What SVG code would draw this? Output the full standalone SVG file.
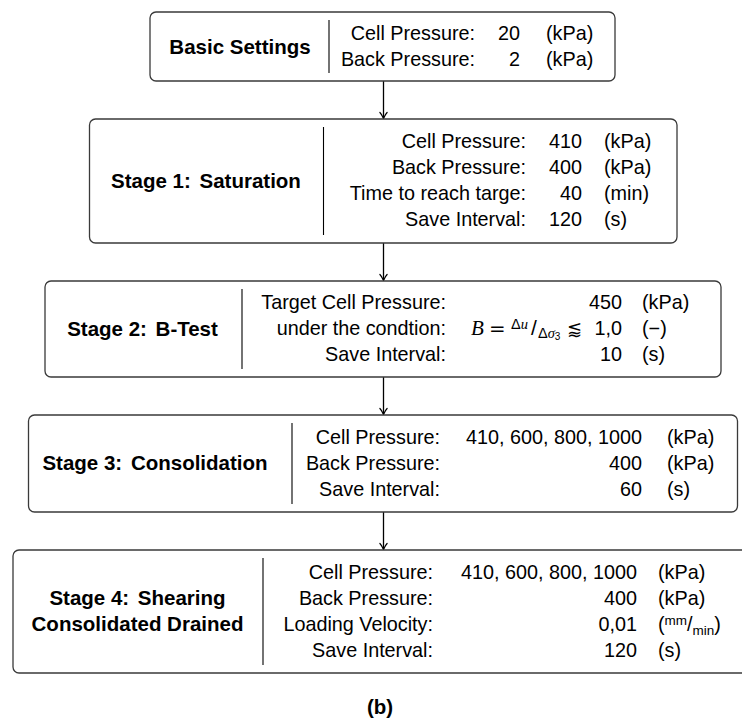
<svg xmlns="http://www.w3.org/2000/svg" width="742" height="722" viewBox="0 0 742 722">
<style>
  .box { fill: #ffffff; stroke: #3a3a3a; stroke-width: 1.3; }
  .div { stroke: #000; stroke-width: 1.1; }
  .t { font-family: "Liberation Sans", Arial, sans-serif; font-size: 19.8px; fill: #000; }
  .b { font-family: "Liberation Sans", Arial, sans-serif; font-size: 20.5px; font-weight: bold; fill: #000; }
  .r { text-anchor: end; }
  .c { text-anchor: middle; }
  .mi { font-family: "Liberation Serif", "Times New Roman", serif; font-style: italic; }
  .sym { font-family: "DejaVu Sans", "Liberation Sans", sans-serif; }
  .conn { stroke: #000; stroke-width: 1.3; fill: none; }
</style>
<defs>
  <marker id="arr" viewBox="-8 -5 10 10" refX="0" refY="0" markerWidth="10" markerHeight="10" markerUnits="userSpaceOnUse" orient="auto" overflow="visible">
    <path d="M -6 -3.6 C -4 -1.6 -1.2 -0.5 0 0 C -1.2 0.5 -4 1.6 -6 3.6" fill="none" stroke="#000" stroke-width="1.2" stroke-linecap="round"/>
  </marker>
</defs>
<rect width="742" height="722" fill="#ffffff"/>

<g id="connectors">
  <line class="conn" x1="383.5" y1="81" x2="383.5" y2="118.5" marker-end="url(#arr)"/>
  <line class="conn" x1="383.5" y1="243" x2="383.5" y2="280.5" marker-end="url(#arr)"/>
  <line class="conn" x1="383.5" y1="377" x2="383.5" y2="414.5" marker-end="url(#arr)"/>
  <line class="conn" x1="383.5" y1="512" x2="383.5" y2="549.5" marker-end="url(#arr)"/>
</g>

<g id="basic">
  <rect class="box" x="150" y="12" width="465" height="69" rx="6"/>
  <line class="div" x1="329" y1="20" x2="329" y2="73"/>
  <text class="b c" x="240" y="53.5">Basic Settings</text>
  <text class="t r" x="475" y="40">Cell Pressure:</text>
  <text class="t r" x="475" y="66">Back Pressure:</text>
  <text class="t r" x="520" y="40">20</text>
  <text class="t r" x="520" y="66">2</text>
  <text class="t" x="546" y="40">(kPa)</text>
  <text class="t" x="546" y="66">(kPa)</text>
</g>

<g id="stage1">
  <rect class="box" x="89.5" y="119" width="587.5" height="124" rx="6"/>
  <line class="div" x1="323.5" y1="127" x2="323.5" y2="235"/>
  <text class="b c" x="206" y="188">Stage 1:<tspan dx="3"> Saturation</tspan></text>
  <text class="t r" x="526" y="148">Cell Pressure:</text>
  <text class="t r" x="526" y="174">Back Pressure:</text>
  <text class="t r" x="526" y="200">Time to reach targe:</text>
  <text class="t r" x="526" y="226">Save Interval:</text>
  <text class="t r" x="582" y="148">410</text>
  <text class="t r" x="582" y="174">400</text>
  <text class="t r" x="582" y="200">40</text>
  <text class="t r" x="582" y="226">120</text>
  <text class="t" x="604" y="148">(kPa)</text>
  <text class="t" x="604" y="174">(kPa)</text>
  <text class="t" x="604" y="200">(min)</text>
  <text class="t" x="604" y="226">(s)</text>
</g>

<g id="stage2">
  <rect class="box" x="45" y="281" width="676" height="96" rx="6"/>
  <line class="div" x1="242" y1="289" x2="242" y2="369"/>
  <text class="b c" x="142.5" y="336">Stage 2:<tspan dx="3"> B-Test</tspan></text>
  <text class="t r" x="446" y="309">Target Cell Pressure:</text>
  <text class="t r" x="446" y="335">under the condtion:</text>
  <text class="t r" x="446" y="361">Save Interval:</text>
  <text class="t r" x="622" y="309">450</text>
  <text class="t" y="335"><tspan class="mi" x="471" font-size="21">B</tspan><tspan class="sym" x="489">=</tspan><tspan x="511" dy="-6" font-size="14.5">Δ<tspan class="mi">u</tspan></tspan><tspan x="531" dy="6" font-size="21">/</tspan><tspan x="538" dy="3" font-size="14.5">Δ<tspan class="mi">σ</tspan></tspan><tspan dy="2" font-size="10">3</tspan><tspan class="sym" x="567" dy="-5" font-size="18">⪅</tspan></text>
  <text class="t r" x="622" y="335">1,0</text>
  <text class="t r" x="622" y="361">10</text>
  <text class="t" x="642" y="309">(kPa)</text>
  <text class="t" x="642" y="335">(−)</text>
  <text class="t" x="642" y="361">(s)</text>
</g>

<g id="stage3">
  <rect class="box" x="28.5" y="415" width="709" height="97" rx="6"/>
  <line class="div" x1="292" y1="423" x2="292" y2="504"/>
  <text class="b c" x="155" y="470">Stage 3:<tspan dx="3"> Consolidation</tspan></text>
  <text class="t r" x="440" y="444">Cell Pressure:</text>
  <text class="t r" x="440" y="470">Back Pressure:</text>
  <text class="t r" x="440" y="496">Save Interval:</text>
  <text class="t r" x="642" y="444">410, 600, 800, 1000</text>
  <text class="t r" x="642" y="470">400</text>
  <text class="t r" x="642" y="496">60</text>
  <text class="t" x="667" y="444">(kPa)</text>
  <text class="t" x="667" y="470">(kPa)</text>
  <text class="t" x="667" y="496">(s)</text>
</g>

<g id="stage4">
  <rect class="box" x="13" y="550" width="760" height="123" rx="6"/>
  <line class="div" x1="263" y1="558" x2="263" y2="665"/>
  <text class="b c" x="137.5" y="605">Stage 4:<tspan dx="3"> Shearing</tspan></text>
  <text class="b c" x="137.5" y="631">Consolidated Drained</text>
  <text class="t r" x="433" y="579">Cell Pressure:</text>
  <text class="t r" x="433" y="605">Back Pressure:</text>
  <text class="t r" x="433" y="631">Loading Velocity:</text>
  <text class="t r" x="433" y="657">Save Interval:</text>
  <text class="t r" x="637" y="579">410, 600, 800, 1000</text>
  <text class="t r" x="637" y="605">400</text>
  <text class="t r" x="637" y="631">0,01</text>
  <text class="t r" x="637" y="657">120</text>
  <text class="t" x="658" y="579">(kPa)</text>
  <text class="t" x="658" y="605">(kPa)</text>
  <text class="t" x="658" y="631">(<tspan dy="-6" font-size="13.5">mm</tspan><tspan dy="6">/</tspan><tspan dy="4" font-size="13.5">min</tspan><tspan dy="-4">)</tspan></text>
  <text class="t" x="658" y="657">(s)</text>
</g>

<text class="b c" x="380" y="714" font-size="21">(b)</text>
</svg>
